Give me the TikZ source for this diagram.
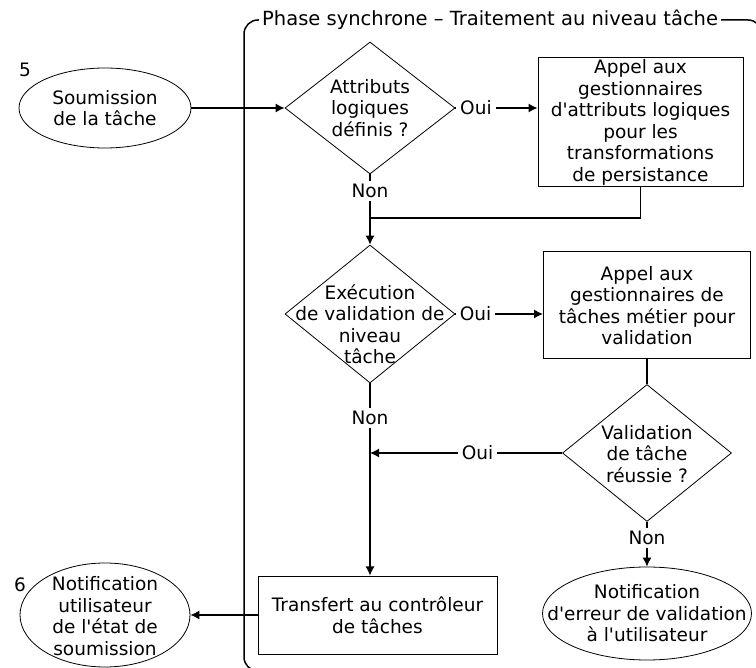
\documentclass[tikz,border=0pt]{standalone}
\usepackage{fontspec}
\setmainfont{DejaVu Sans}
\usetikzlibrary{shapes.geometric,arrows.meta}

\begin{document}
\begin{tikzpicture}[x=1pt,y=-1pt]
 \tikzstyle{every node}=[font=\fontsize{18.5}{21.5}\selectfont, inner sep=0pt]
 \tikzstyle{boite}=[rectangle, draw, line width=1pt, align=center]
 \tikzstyle{losange}=[diamond, draw, line width=0.8pt]
 \tikzstyle{bulle}=[ellipse, draw, line width=0.8pt]
 \tikzstyle{texte}=[align=center]
 \tikzstyle{etiq}=[fill=white, inner xsep=4pt, inner ysep=3pt]
 \tikzstyle{fleche}=[-{Latex[length=9pt,width=9pt]}, line width=1.2pt]
 \tikzstyle{trait}=[line width=1.2pt]
 \useasboundingbox (0,0) rectangle (756,668);
 %
 \draw[line width=1.5pt, rounded corners=14pt] (762,80) |- (244,20) -- (244,671) -- (300,671);
 \node[etiq, anchor=west, inner xsep=3pt, font=\fontsize{19.5}{22}\selectfont] (titre) at (259,20) {Phase synchrone – Traitement au niveau tâche};
 %
 \node (n5) at (25,70) {5};
 \node[bulle, minimum width=172pt, minimum height=80pt] (E1) at (105,108) {};
 \node[texte] (E1t) at (E1) {Soumission\\de la tâche};
 \node[losange, minimum width=170pt, minimum height=132pt] (D1) at (370,108) {};
 \node[texte] (D1t) at (370,108) {Attributs\\logiques\\définis ?};
 \node[boite, minimum width=205pt, minimum height=129pt] (B1) at (640.5,122.5) {Appel aux\\gestionnaires\\d\textquotesingle attributs logiques\\pour les\\transformations\\de persistance};
 %
 \node[losange, minimum width=170pt, minimum height=138pt] (D2) at (370,314) {};
 \node[texte] (D2t) at (370,324) {Exécution\\de validation de\\niveau\\tâche};
 \node[boite, minimum width=207pt, minimum height=107pt] (B2) at (647,305.5) {Appel aux\\gestionnaires de\\tâches métier pour\\validation};
 \node[losange, minimum width=169pt, minimum height=137pt] (D3) at (647,453) {};
 \node[texte] (D3t) at (647,454) {Validation\\de tâche\\réussie ?};
 %
 \node[boite, minimum width=239pt, minimum height=78pt] (B3) at (377.5,615) {Transfert au contrôleur\\de tâches};
 \node (n6) at (20,585) {6};
 \node[bulle, minimum width=170pt, minimum height=104pt] (E2) at (105,615) {};
 \node[texte] (E2t) at (105,616) {Notification\\utilisateur\\de l\textquotesingle état de\\soumission};
 \node[bulle, minimum width=209pt, minimum height=93pt] (E3) at (647,613.5) {};
 \node[texte] (E3t) at (E3) {Notification\\d\textquotesingle erreur de validation\\à l\textquotesingle utilisateur};
 %
 \coordinate (j1) at (370,218);
 \coordinate (j2) at (370,453);
 %%
 \draw[fleche] (E1.east)--(D1.west);
 \draw[fleche] (D1.east)--(D1.east -| B1.west) node[etiq, pos=0.25] {Oui};
 \draw[fleche] (D1.south)--(D2.north) node[etiq, pos=0.24] {Non};
 \draw[trait] (B1.south) |- (j1);
 \draw[fleche] (D2.east)--(D2.east -| B2.west) node[etiq, pos=0.23] {Oui};
 \draw[trait] (B2.south)--(D3.north);
 \draw[fleche] (D3.west)--(j2) node[etiq, pos=0.44] {Oui};
 \draw[fleche] (D2.south)--(D2.south |- B3.north) node[etiq, pos=0.18] {Non};
 \draw[fleche] (D3.south)--(E3.north) node[etiq, pos=0.36] {Non};
 \draw[fleche] (B3.west)--(E2.east);
\end{tikzpicture}
\end{document}
